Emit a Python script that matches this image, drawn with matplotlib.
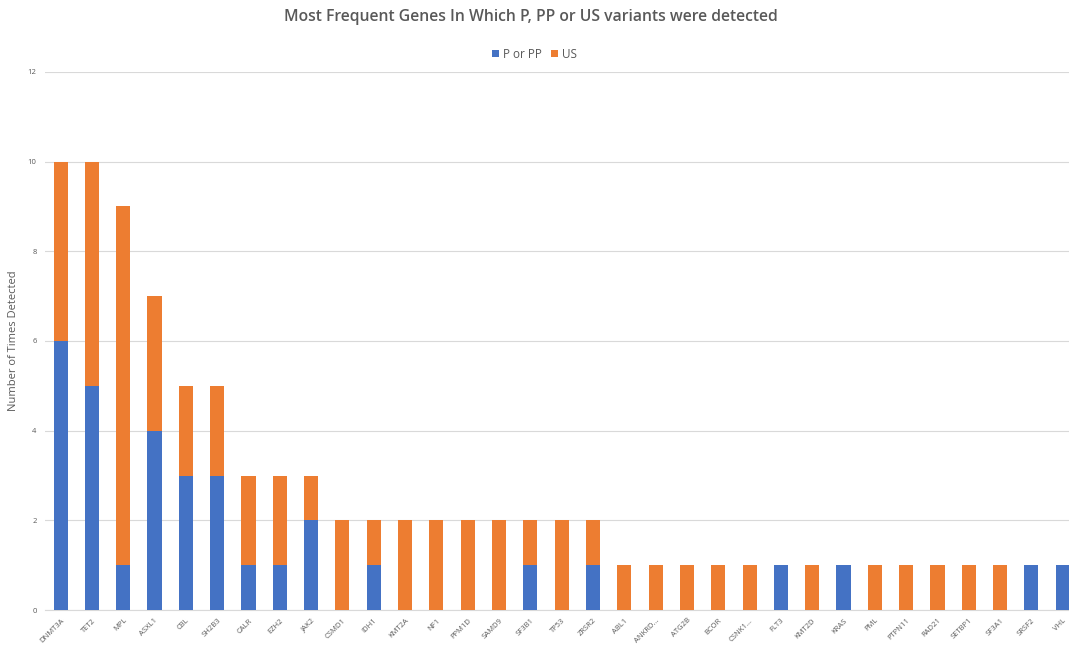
import matplotlib
matplotlib.use('Agg')
import matplotlib.pyplot as plt
import numpy as np

genes = ['DNMT3A', 'TET2', 'MPL', 'ASXL1', 'CBL', 'SH2B3', 'CALR', 'EZH2', 'JAK2',
         'CSMD1', 'IDH1', 'KMT2A', 'NF1', 'PPM1D', 'SAMD9', 'SF3B1', 'TP53', 'ZRSR2',
         'ABL1', 'ANKRD...', 'ATG2B', 'BCOR', 'CSNK1...', 'FLT3', 'KMT2D', 'KRAS',
         'PML', 'PTPN11', 'RAD21', 'SETBP1', 'SF3A1', 'SRSF2', 'VHL']
p_or_pp = [6, 5, 1, 4, 3, 3, 1, 1, 2, 0, 1, 0, 0, 0, 0, 1, 0, 1,
           0, 0, 0, 0, 0, 1, 0, 1, 0, 0, 0, 0, 0, 1, 1]
us = [4, 5, 8, 3, 2, 2, 2, 2, 1, 2, 1, 2, 2, 2, 2, 1, 2, 1,
      1, 1, 1, 1, 1, 0, 1, 0, 1, 1, 1, 1, 1, 0, 0]

plt.rcParams['font.family'] = ['Open Sans', 'DejaVu Sans']

fig = plt.figure(figsize=(10.69, 6.47), dpi=100)
ax = fig.add_axes([0.042, 0.057, 0.958, 0.832])

x = np.arange(len(genes))
ax.bar(x, p_or_pp, width=0.45, color='#4472C4', label='P or PP', zorder=3)
ax.bar(x, us, width=0.45, bottom=p_or_pp, color='#ED7D31', label='US', zorder=3)

ax.set_xlim(-0.5, 32.2)
ax.set_ylim(0, 12)
ax.set_yticks(range(0, 13, 2))
ax.yaxis.grid(True, color='#D9D9D9', linewidth=0.8, zorder=0)
ax.set_xticks(x)
ax.set_xticklabels(genes, rotation=45, ha='right', rotation_mode='anchor', fontsize=5.5, color='#595959')
ax.tick_params(axis='y', labelsize=5.5, colors='#595959', length=0, pad=6)
ax.tick_params(axis='x', length=0, pad=5)
for s in ['top', 'right', 'left']:
    ax.spines[s].set_visible(False)
ax.spines['bottom'].set_color('#D9D9D9')

ax.set_ylabel('Number of Times Detected', fontsize=8, color='#595959', labelpad=6)

fig.text(0.497, 0.973, 'Most Frequent Genes In Which P, PP or US variants were detected',
         ha='center', va='center', fontsize=11.3, color='#595959', fontweight='semibold')
fig.legend(loc='center', bbox_to_anchor=(0.5, 0.916), ncol=2, frameon=False, fontsize=8.5,
           handlelength=0.6, handleheight=0.6, handletextpad=0.3, columnspacing=0.8,
           labelcolor='#595959')

fig.savefig('out.png', dpi=100)
